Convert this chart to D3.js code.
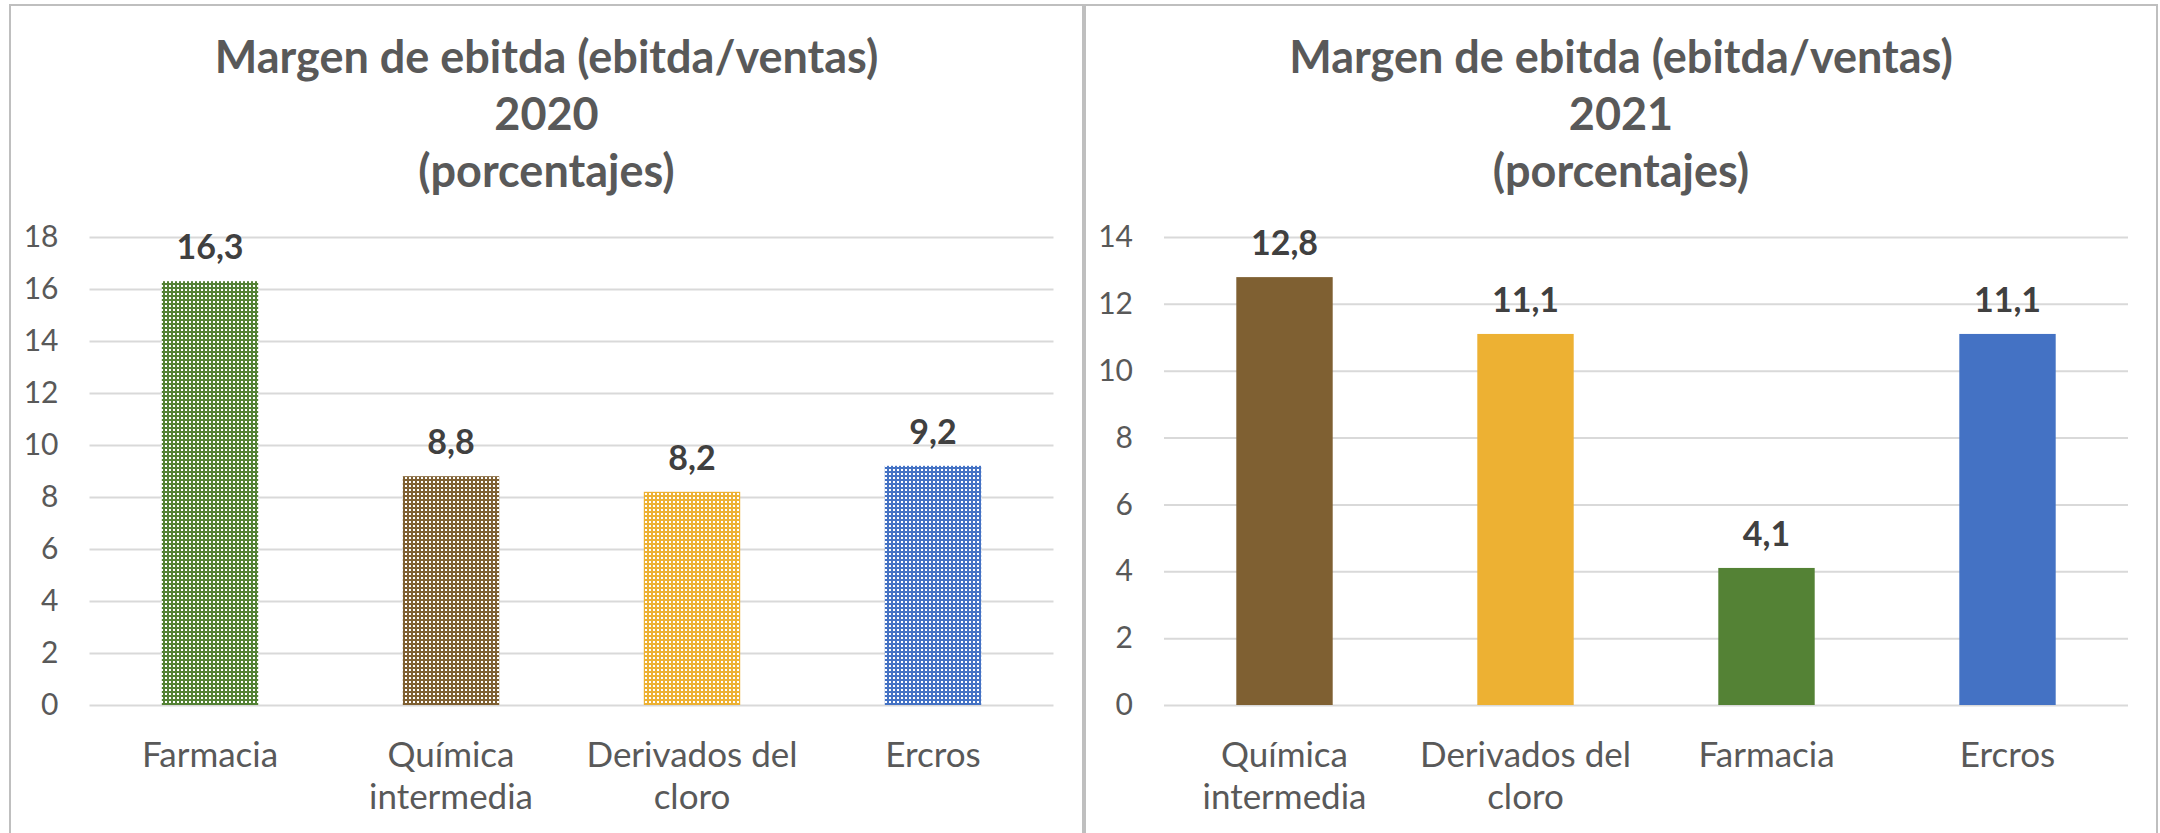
<!DOCTYPE html>
<html>
<head>
<meta charset="utf-8">
<script src="https://cdn.jsdelivr.net/npm/d3@7"></script>
<style>
  html, body { margin: 0; padding: 0; background: #ffffff; }
  svg { display: block; }
</style>
</head>
<body>
<svg id="chart" width="2160" height="833"></svg>
<script>
// ---- data ----
const categories2020 = ["Farmacia", "Química intermedia", "Derivados del cloro", "Ercros"];
const values2020 = [16.3, 8.8, 8.2, 9.2];
const colors2020 = ["#548235", "#7f6032", "#edb133", "#4472c4"];
const yTicks2020 = [0, 2, 4, 6, 8, 10, 12, 14, 16, 18];
const title2020 = ["Margen de ebitda (ebitda/ventas)", "2020", "(porcentajes)"];

const categories2021 = ["Química intermedia", "Derivados del cloro", "Farmacia", "Ercros"];
const values2021 = [12.8, 11.1, 4.1, 11.1];
const colors2021 = ["#7f6032", "#edb133", "#548235", "#4472c4"];
const yTicks2021 = [0, 2, 4, 6, 8, 10, 12, 14];
const title2021 = ["Margen de ebitda (ebitda/ventas)", "2021", "(porcentajes)"];

const FONT = "Lato, 'Open Sans', sans-serif";
const svg = d3.select("#chart");
const defs = svg.append("defs");

function fmt(v) { return d3.format(".1f")(v).replace(".", ","); }

function wrap(textSel, width) {
  textSel.each(function() {
    const text = d3.select(this);
    const words = text.text().split(/\s+/);
    const x = text.attr("x") || 0;
    text.text(null);
    let line = [];
    let tspan = text.append("tspan").attr("x", x).attr("dy", 0);
    words.forEach(w => {
      line.push(w);
      tspan.text(line.join(" "));
      if (tspan.node().getComputedTextLength() > width && line.length > 1) {
        line.pop();
        tspan.text(line.join(" "));
        line = [w];
        tspan = text.append("tspan").attr("x", x).attr("dy", 42).text(w);
      }
    });
  });
}

function makePattern(id, color) {
  const p = defs.append("pattern")
    .attr("id", id).attr("patternUnits", "userSpaceOnUse")
    .attr("width", 4).attr("height", 4);
  p.append("rect").attr("width", 4).attr("height", 4).attr("fill", color);
  p.append("rect").attr("x", 1).attr("y", 1).attr("width", 2).attr("height", 2).attr("fill", "#ffffff");
}

function drawPanel(opts) {
  const { px0, px1, plotX0, plotX1, cats, vals, cols, ticks, title, patterned, key } = opts;
  const top = 237, bottom = 705;
  svg.append("rect")
    .attr("x", px0).attr("y", 5)
    .attr("width", px1 - px0).attr("height", 900)
    .attr("fill", "none").attr("stroke", "#bfbfbf").attr("stroke-width", 2);

  const g = svg.append("g");
  const cx = (px0 + px1) / 2;
  const tt = g.append("text")
    .attr("text-anchor", "middle")
    .attr("font-family", FONT).attr("font-weight", "bold")
    .attr("font-size", 45).attr("fill", "#595959");
  title.forEach((t, i) => {
    tt.append("tspan").attr("x", cx).attr("y", 73 + i * 57).text(t);
  });

  const x = d3.scaleBand().domain(cats).range([plotX0, plotX1]).paddingInner(0.6).paddingOuter(0.3);
  const y = d3.scaleLinear().domain([0, d3.max(ticks)]).range([bottom, top]);

  const ya = g.append("g").attr("transform", `translate(${plotX0},0)`)
    .call(d3.axisLeft(y).tickValues(ticks).tickSize(-(plotX1 - plotX0)).tickPadding(31).tickFormat(d3.format("d")));
  ya.select(".domain").remove();
  ya.selectAll(".tick line").attr("stroke", "#d9d9d9").attr("stroke-width", 2);
  ya.selectAll(".tick text").attr("fill", "#595959").attr("font-family", FONT).attr("font-size", 30);

  const fills = cols.map((c, i) => {
    if (!patterned) return c;
    const id = `pat-${key}-${i}`;
    makePattern(id, c);
    return `url(#${id})`;
  });
  g.selectAll("rect.bar").data(vals).join("rect")
    .attr("class", "bar")
    .attr("x", (d, i) => x(cats[i]))
    .attr("width", x.bandwidth())
    .attr("y", d => y(d))
    .attr("height", d => y(0) - y(d))
    .attr("fill", (d, i) => fills[i]);

  g.selectAll("text.lbl").data(vals).join("text")
    .attr("class", "lbl")
    .attr("x", (d, i) => x(cats[i]) + x.bandwidth() / 2)
    .attr("y", d => y(d) - 22)
    .attr("text-anchor", "middle")
    .attr("font-family", FONT).attr("font-weight", "bold")
    .attr("font-size", 34).attr("fill", "#404040")
    .text(d => fmt(d));

  const xa = g.append("g").attr("transform", `translate(0,${bottom})`)
    .call(d3.axisBottom(x).tickSize(0).tickPadding(0));
  xa.select(".domain").remove();
  xa.selectAll(".tick text")
    .attr("fill", "#595959").attr("font-family", FONT).attr("font-size", 35)
    .attr("y", 62).attr("dy", 0)
    .call(wrap, x.step());
}

drawPanel({ key: "a", px0: 10, px1: 1083, plotX0: 89.5, plotX1: 1053.5,
  cats: categories2020, vals: values2020, cols: colors2020, ticks: yTicks2020, title: title2020, patterned: true });
drawPanel({ key: "b", px0: 1085, px1: 2157, plotX0: 1164, plotX1: 2128,
  cats: categories2021, vals: values2021, cols: colors2021, ticks: yTicks2021, title: title2021, patterned: false });
</script>
</body>
</html>
